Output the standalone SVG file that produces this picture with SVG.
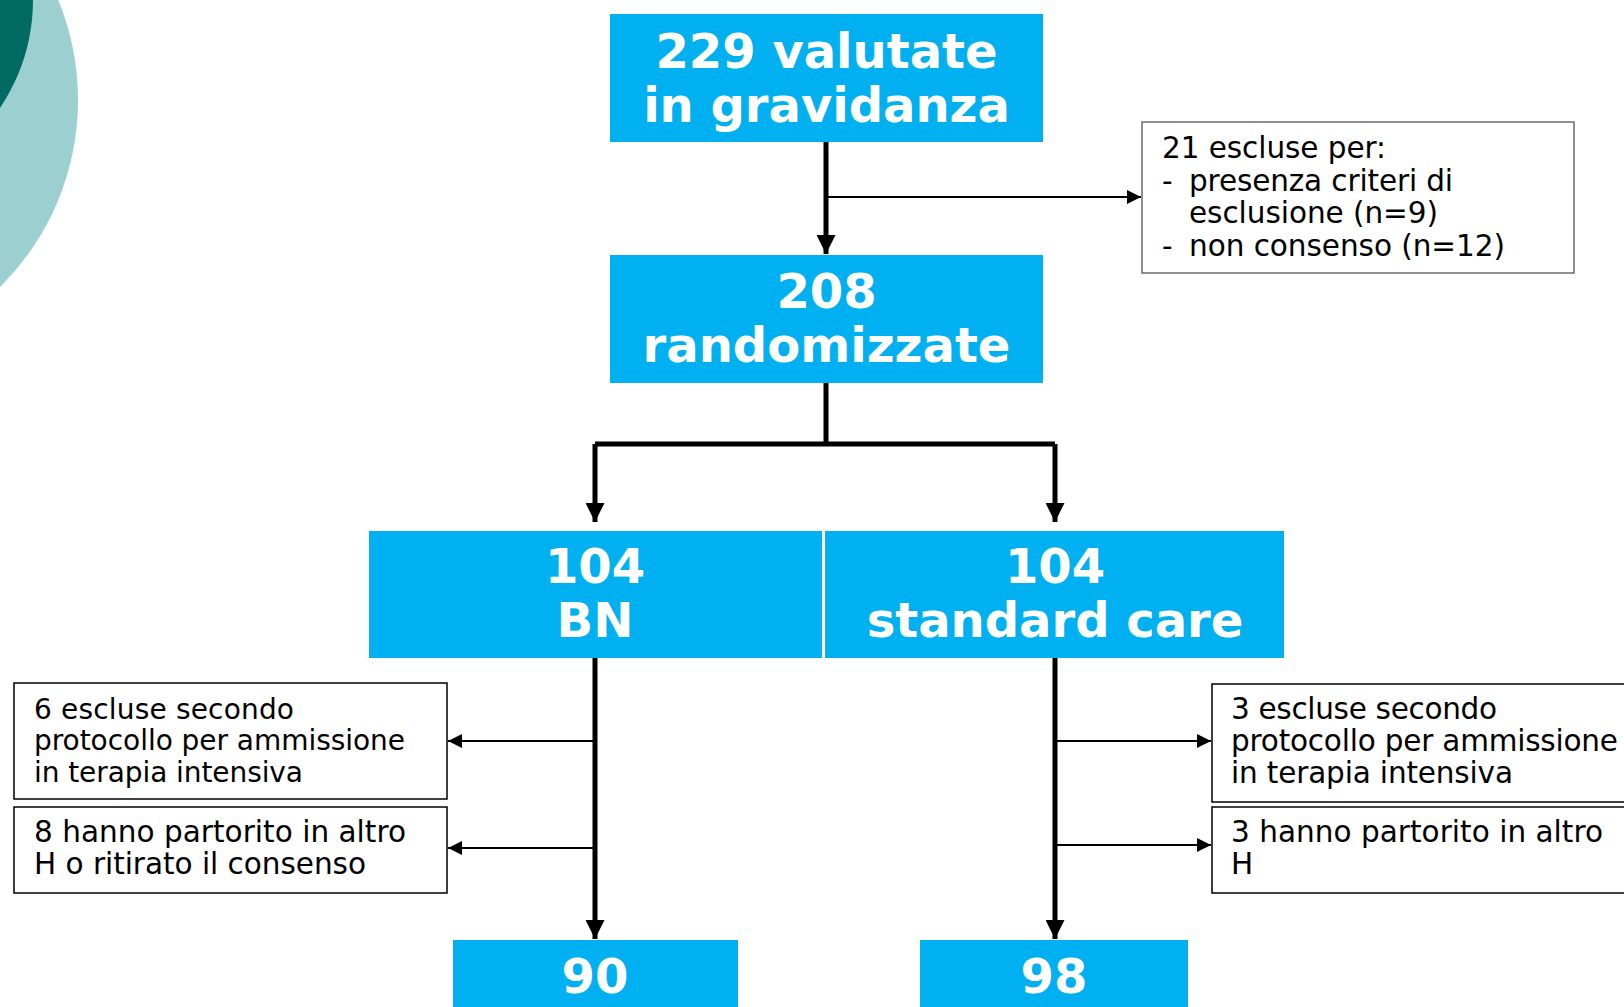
<svg xmlns="http://www.w3.org/2000/svg" width="1624" height="1007" viewBox="0 0 1624 1007">
<style>
.blue{fill:#00B0F0}
.big{font-family:"DejaVu Sans",Verdana,sans-serif;font-weight:bold;font-size:48px;fill:#fff;text-anchor:middle}
.box{fill:#fff;stroke:#000;stroke-width:1.5}
.sm{font-family:"DejaVu Sans",Verdana,sans-serif;font-size:28px;fill:#000}
.sm2{font-family:"DejaVu Sans",Verdana,sans-serif;font-size:29.5px;fill:#000}
.thick{stroke:#000;stroke-width:5;fill:none}
.thin{stroke:#000;stroke-width:2;fill:none}
</style>
<defs>
<marker id="ah" viewBox="0 0 10 10" refX="10" refY="5" markerWidth="3.8" markerHeight="3.8" markerUnits="strokeWidth" orient="auto"><path d="M0,0 L10,5 L0,10 z" fill="#000"/></marker>
<marker id="ahs" viewBox="0 0 10 10" refX="10" refY="5" markerWidth="8" markerHeight="7" markerUnits="strokeWidth" orient="auto"><path d="M0,0 L10,5 L0,10 z" fill="#000"/></marker>
</defs>
<g id="decor">
<circle cx="-185" cy="100" r="263" fill="#9CCFD0"/>
<circle cx="-160" cy="0" r="193" fill="#006A63"/>
</g>
<g id="connectors">
<line class="thick" x1="826" y1="142" x2="826" y2="254" marker-end="url(#ah)"/>
<line class="thin" x1="826" y1="197" x2="1141" y2="197" marker-end="url(#ahs)"/>
<polyline class="thick" points="826,383 826,444"/>
<polyline class="thick" points="595,444 1055,444"/>
<line class="thick" x1="595" y1="444" x2="595" y2="522" marker-end="url(#ah)"/>
<line class="thick" x1="1055" y1="444" x2="1055" y2="522" marker-end="url(#ah)"/>
<line class="thick" x1="595" y1="658" x2="595" y2="939" marker-end="url(#ah)"/>
<line class="thick" x1="1055" y1="658" x2="1055" y2="939" marker-end="url(#ah)"/>
<line class="thin" x1="595" y1="741" x2="448" y2="741" marker-end="url(#ahs)"/>
<line class="thin" x1="595" y1="848" x2="448" y2="848" marker-end="url(#ahs)"/>
<line class="thin" x1="1055" y1="741" x2="1211" y2="741" marker-end="url(#ahs)"/>
<line class="thin" x1="1055" y1="845" x2="1211" y2="845" marker-end="url(#ahs)"/>
</g>
<g id="n229">
<rect class="blue" x="610" y="14" width="433" height="128"/>
<text class="big" x="826.5" y="68">229 valutate</text>
<text class="big" x="826.5" y="122">in gravidanza</text>
</g>
<g id="n21">
<rect x="1142" y="122" width="432" height="151" fill="#fff" stroke="#555" stroke-width="1.3"/>
<text class="sm2" x="1162" y="158" textLength="224">21 escluse per:</text>
<text class="sm2" x="1162" y="191">-</text>
<text class="sm2" x="1189" y="191" textLength="264">presenza criteri di</text>
<text class="sm2" x="1189" y="223" textLength="249">esclusione (n=9)</text>
<text class="sm2" x="1162" y="256">-</text>
<text class="sm2" x="1189" y="256" textLength="316">non consenso (n=12)</text>
</g>
<g id="n208">
<rect class="blue" x="610" y="255" width="433" height="128"/>
<text class="big" x="826.5" y="308">208</text>
<text class="big" x="826.5" y="362">randomizzate</text>
</g>
<g id="nBN">
<rect class="blue" x="369" y="531" width="453" height="127"/>
<text class="big" x="595" y="583">104</text>
<text class="big" x="595" y="637">BN</text>
</g>
<g id="nSC">
<rect class="blue" x="825" y="531" width="459" height="127"/>
<text class="big" x="1055" y="583">104</text>
<text class="big" x="1055" y="637">standard care</text>
</g>
<g id="nL1">
<rect class="box" x="14" y="683" width="433" height="116"/>
<text class="sm" x="34" y="719" textLength="260">6 escluse secondo</text>
<text class="sm" x="34" y="750" textLength="371">protocollo per ammissione</text>
<text class="sm" x="34" y="782" textLength="269">in terapia intensiva</text>
</g>
<g id="nL2">
<rect class="box" x="14" y="807" width="433" height="86"/>
<text class="sm2" x="34" y="842" textLength="372">8 hanno partorito in altro</text>
<text class="sm2" x="34" y="874" textLength="332">H o ritirato il consenso</text>
</g>
<g id="nR1">
<rect class="box" x="1212" y="684" width="430" height="118"/>
<text class="sm2" x="1231" y="719" textLength="266">3 escluse secondo</text>
<text class="sm2" x="1231" y="751" textLength="387">protocollo per ammissione</text>
<text class="sm2" x="1231" y="783" textLength="282">in terapia intensiva</text>
</g>
<g id="nR2">
<rect class="box" x="1212" y="807" width="430" height="86"/>
<text class="sm2" x="1231" y="842" textLength="372">3 hanno partorito in altro</text>
<text class="sm2" x="1231" y="874">H</text>
</g>
<g id="n90">
<rect class="blue" x="453" y="940" width="285" height="70"/>
<text class="big" x="595" y="993">90</text>
</g>
<g id="n98">
<rect class="blue" x="920" y="940" width="268" height="70"/>
<text class="big" x="1054" y="993">98</text>
</g>
</svg>
